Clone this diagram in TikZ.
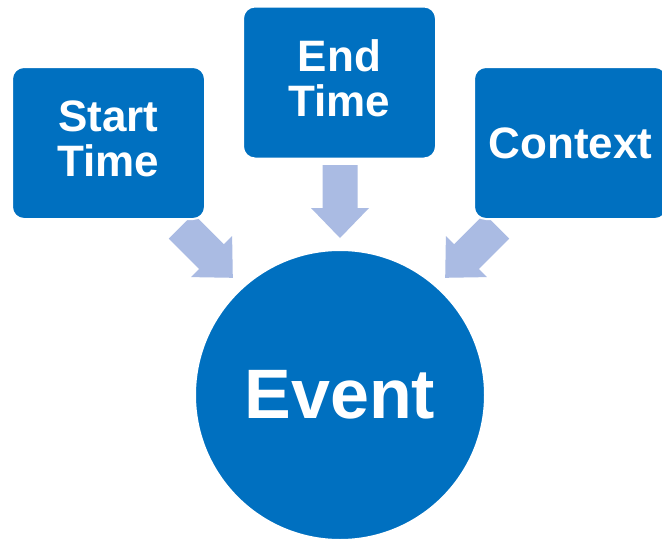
\documentclass[tikz,border=0pt]{standalone}
\usepackage{fontspec}
\setmainfont{Liberation Sans}
\definecolor{boxblue}{RGB}{0,112,192}
\definecolor{arrowc}{RGB}{170,187,227}
\newcommand{\lowpad}{\rule[-8pt]{0pt}{0pt}}
\begin{document}
\begin{tikzpicture}[x=1pt,y=1pt,
  boxst/.style={rectangle, rounded corners=12pt, fill=boxblue, draw=white, line width=2pt,
    minimum width=193pt, minimum height=152pt, inner sep=0pt, align=center, text=white,
    font=\fontsize{44}{45}\selectfont\bfseries},
  eventst/.style={circle, fill=boxblue, draw=white, line width=2pt, minimum size=290pt,
    inner sep=0pt, text=white, font=\fontsize{70}{70}\selectfont\bfseries},
  blockarrow/.pic={\fill[arrowc] (-36.5,-17.5) -- (6.5,-17.5) -- (6.5,-29) -- (36.5,0)
    -- (6.5,29) -- (6.5,17.5) -- (-36.5,17.5) -- cycle;}]
\clip (0,0) rectangle (662,-541);
\fill[white] (0,0) rectangle (662,-541);
% arrows
\coordinate (a1) at (207,-252);
\coordinate (a2) at (340,-201.5);
\coordinate (a3) at (471,-252);
\pic[rotate=-45] at (a1) {blockarrow};
\pic[rotate=-90] at (a2) {blockarrow};
\pic[rotate=-135] at (a3) {blockarrow};
% boxes
\node[boxst] (start) at (108.5,-143) {Start\\Time\lowpad};
\node[boxst] (end) at (339.5,-82.5) {End\\Time\lowpad};
\node[boxst] (ctx) at (570.5,-143) {Context};
\node[eventst] (event) at (340,-395) {Event};
\end{tikzpicture}
\end{document}
